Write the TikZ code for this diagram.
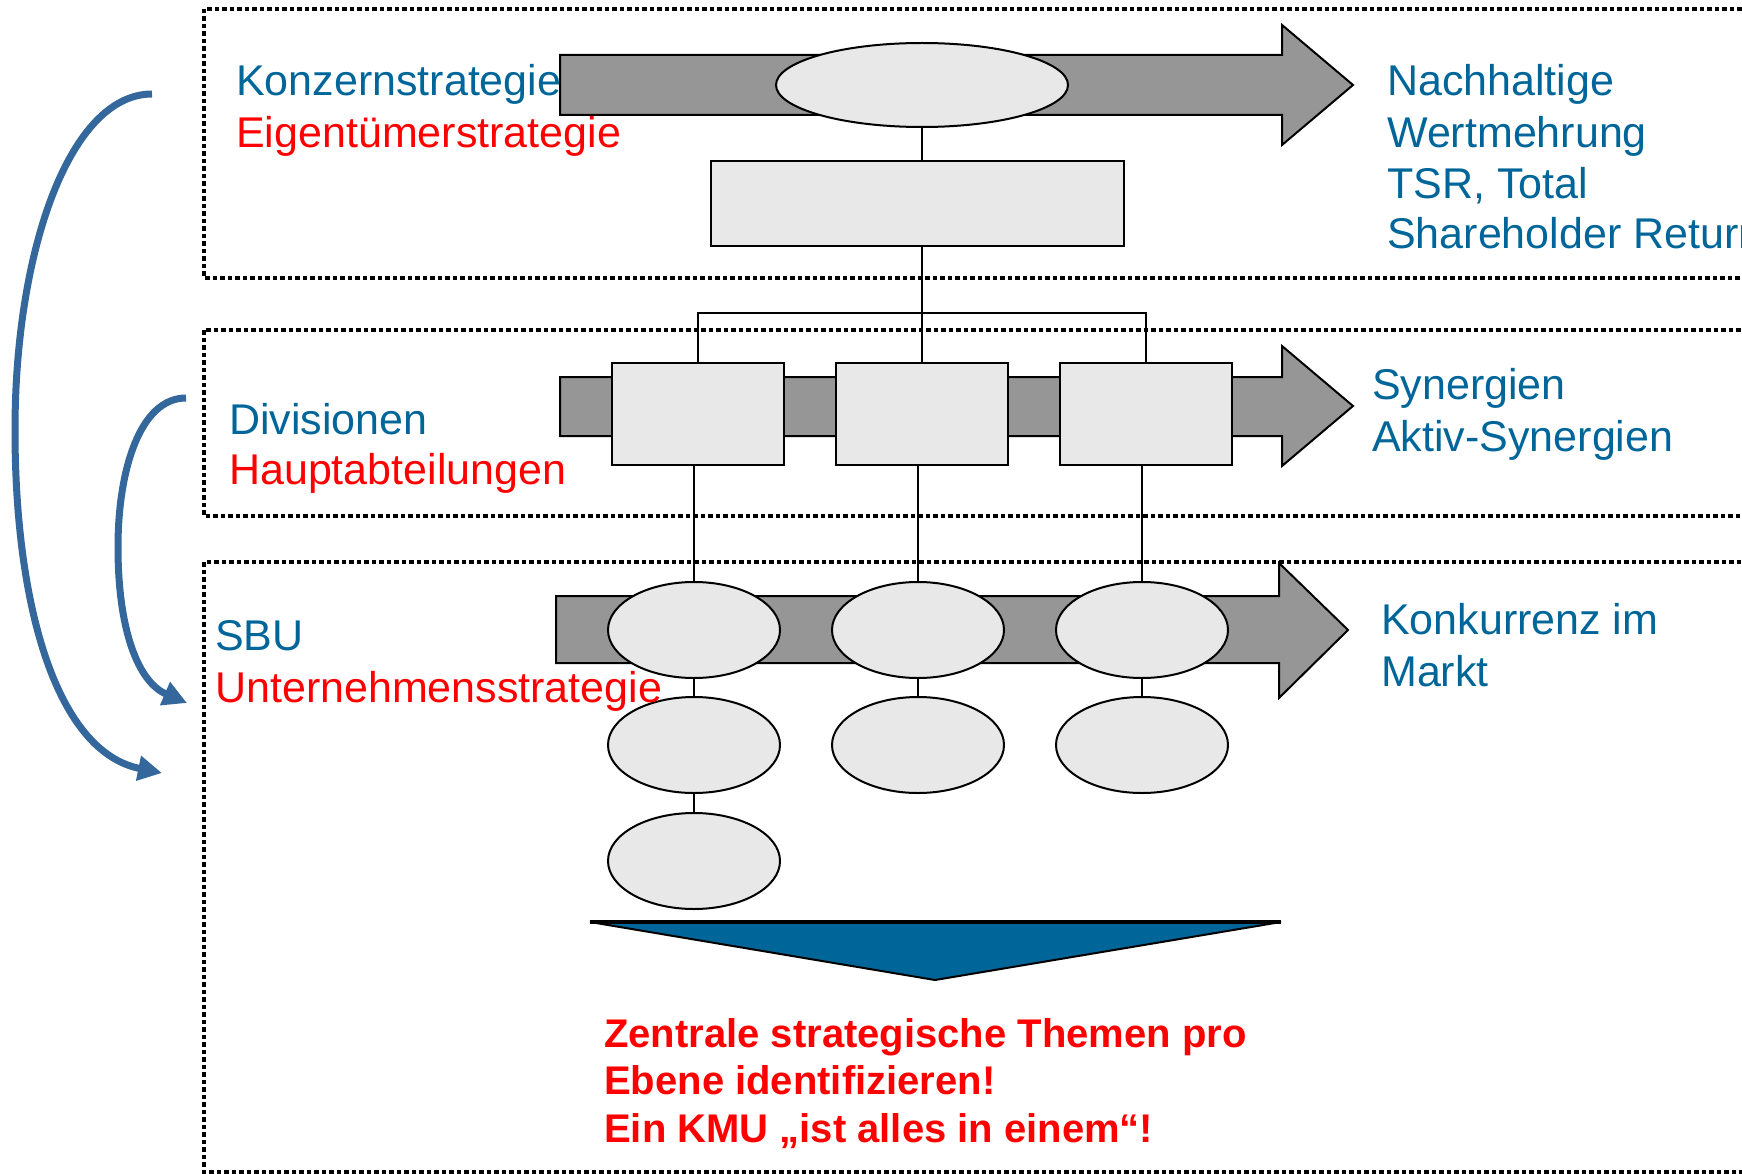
\documentclass[tikz,border=0pt]{standalone}
\usepackage{fontspec}
\setmainfont{Liberation Sans}
\usetikzlibrary{arrows.meta,shapes.geometric}
\definecolor{lblblue}{RGB}{0,102,153}
\definecolor{lblred}{RGB}{255,0,0}
\definecolor{curveblue}{RGB}{52,103,155}
\definecolor{bandgray}{RGB}{150,150,150}
\definecolor{boxfill}{RGB}{232,232,232}

\begin{document}
\begin{tikzpicture}[x=1pt,y=-1pt,
  levelframe/.style={draw=black, line width=3.5pt, dash pattern=on 4.5pt off 3pt},
  band/.style={fill=bandgray, draw=black, line width=2pt, line join=miter},
  unitbox/.style={rectangle, draw=black, fill=boxfill, line width=2pt, inner sep=0pt,
    minimum width=172pt, minimum height=102pt},
  unitoval/.style={ellipse, draw=black, fill=boxfill, line width=2pt, inner sep=0pt,
    minimum width=172pt, minimum height=96pt},
  link/.style={draw=black, line width=1.8pt},
  loop/.style={draw=curveblue, line width=7pt, -{Triangle[length=24pt,width=24pt]}},
  lbl/.style={anchor=base west, inner sep=0pt, font=\fontsize{43}{52}\selectfont},
  note/.style={anchor=base west, inner sep=0pt, text=lblred, font=\fontsize{40}{48}\selectfont\bfseries}
]
\useasboundingbox (0,0) rectangle (1742,1174);
\clip (0,0) rectangle (1742,1174);

% level frames (open to the right)
\draw[levelframe] (204,9) rectangle (1780,278);
\draw[levelframe] (204,330) rectangle (1780,516);
\draw[levelframe] (204,562) rectangle (1780,1172);

% broad grey arrows of the three levels
\draw[band] (560,55) -- (1282,55) -- (1282,25) -- (1353,85) -- (1282,145) -- (1282,115) -- (560,115) -- cycle;
\draw[band] (560,377) -- (1282,377) -- (1282,346) -- (1353,406) -- (1282,466) -- (1282,436) -- (560,436) -- cycle;
\draw[band] (556,596) -- (1279,596) -- (1279,563) -- (1348,630) -- (1279,698) -- (1279,663) -- (556,663) -- cycle;

% group level
\node[unitoval, minimum width=292pt, minimum height=84pt] (group) at (922,85) {};
\node[unitbox, minimum width=413pt, minimum height=85pt] (holding) at (917.5,203.5) {};

% divisions
\node[unitbox] (divA) at (698,414) {};
\node[unitbox] (divB) at (922,414) {};
\node[unitbox] (divC) at (1146,414) {};

% business units
\node[unitoval] (sbuA1) at (694,630) {};
\node[unitoval] (sbuB1) at (918,630) {};
\node[unitoval] (sbuC1) at (1142,630) {};
\node[unitoval] (sbuA2) at (694,745) {};
\node[unitoval] (sbuB2) at (918,745) {};
\node[unitoval] (sbuC2) at (1142,745) {};
\node[unitoval] (sbuA3) at (694,861) {};

% hierarchy lines
\coordinate (bus) at (922,313);
\draw[link] (group.south) -- (group.south |- holding.north);
\draw[link] (group.south |- holding.south) -- (bus);
\draw[link] (divA.north) |- (bus) -| (divC.north);
\draw[link] (bus) -- (divB.north);
\draw[link] (sbuA1.north) -- (sbuA1.north |- divA.south);
\draw[link] (sbuB1.north) -- (sbuB1.north |- divB.south);
\draw[link] (sbuC1.north) -- (sbuC1.north |- divC.south);
\draw[link] (sbuA1.south) -- (sbuA2.north);
\draw[link] (sbuB1.south) -- (sbuB2.north);
\draw[link] (sbuC1.south) -- (sbuC2.north);
\draw[link] (sbuA2.south) -- (sbuA3.north);

% funnel towards the conclusion
\draw[fill=lblblue, draw=black, line width=2pt, line join=miter] (590,922) -- (1281,922) -- (935,980) -- cycle;
\draw[black, line width=4pt] (590,922) -- (1281,922);

% cascading arrows on the left
\coordinate (outerStart) at (152,94);
\coordinate (outerEnd) at (162,773);
\coordinate (innerStart) at (186,398);
\coordinate (innerEnd) at (187,703);
\draw[loop] (outerStart) .. controls (70,94) and (15,250) .. (15,430)
  .. controls (15,610) and (58,752) .. (outerEnd);
\draw[loop] (innerStart) .. controls (140,398) and (118,470) .. (118,547)
  .. controls (118,630) and (138,682) .. (innerEnd);

% level labels
\node[lbl, text=lblblue] (konzern) at (236,96) {Konzernstrategie};
\node[lbl, text=lblred] (eigen) at (236,148) {Eigentümerstrategie};
\node[lbl, text=lblblue] (division) at (229,434) {Divisionen};
\node[lbl, text=lblred] (haupt) at (229,484) {Hauptabteilungen};
\node[lbl, text=lblblue] (sbu) at (215,650) {SBU};
\node[lbl, text=lblred] (unternehmen) at (215,702) {Unternehmensstrategie};

% goals of each level
\node[lbl, text=lblblue] (goal1a) at (1387,96) {Nachhaltige};
\node[lbl, text=lblblue] (goal1b) at (1387,148) {Wertmehrung};
\node[lbl, text=lblblue] (goal1c) at (1387,199) {TSR, Total};
\node[lbl, text=lblblue] (goal1d) at (1387,249) {Shareholder Return};
\node[lbl, text=lblblue] (goal2a) at (1372,399) {Synergien};
\node[lbl, text=lblblue] (goal2b) at (1372,451) {Aktiv-Synergien};
\node[lbl, text=lblblue] (goal3a) at (1381,634) {Konkurrenz im};
\node[lbl, text=lblblue] (goal3b) at (1381,686) {Markt};

% conclusion
\node[note] (concl1) at (604,1047) {Zentrale strategische Themen pro};
\node[note] (concl2) at (604,1094) {Ebene identifizieren!};
\node[note] (concl3) at (604,1142) {Ein KMU „ist alles in einem“!};
\end{tikzpicture}
\end{document}
